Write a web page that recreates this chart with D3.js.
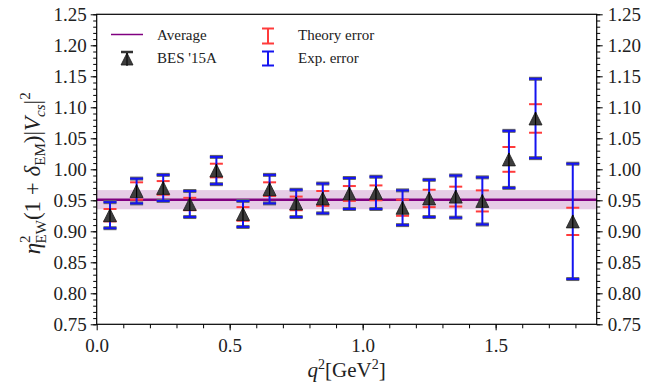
<!DOCTYPE html>
<html>
<head>
<meta charset="utf-8">
<script src="https://cdn.jsdelivr.net/npm/d3@7"></script>
<style>
  body { margin: 0; background: #fff; }
</style>
</head>
<body>
<div id="chart"></div>
<script>
// q^2 bin centres (GeV^2)
const qsq = [0.05, 0.15, 0.25, 0.35, 0.45, 0.55, 0.65, 0.75, 0.85, 0.95,
             1.05, 1.15, 1.25, 1.35, 1.45, 1.55, 1.65, 1.79];
// BES '15A extracted values
const central = [0.926, 0.965, 0.970, 0.944, 0.998, 0.928, 0.968, 0.945, 0.953, 0.961,
                 0.962, 0.938, 0.953, 0.956, 0.949, 1.016, 1.082, 0.916];
const expErr = [0.021, 0.020, 0.021, 0.021, 0.022, 0.021, 0.023, 0.022, 0.024, 0.025,
                0.026, 0.028, 0.030, 0.034, 0.038, 0.046, 0.064, 0.093];
const thErr = [0.010, 0.014, 0.011, 0.010, 0.011, 0.011, 0.011, 0.011, 0.012, 0.012,
               0.012, 0.013, 0.014, 0.016, 0.017, 0.020, 0.023, 0.022];
const average = 0.951;
const averageErr = 0.0155;

const xTicks = [0.0, 0.5, 1.0, 1.5];
const yTicks = [0.75, 0.80, 0.85, 0.90, 0.95, 1.00, 1.05, 1.10, 1.15, 1.20, 1.25];

const width = 668, height = 388;
const margin = { left: 96.7, right: 71.3, top: 14.3, bottom: 63.7 };
const serif = 'Liberation Serif';

const svg = d3.select('#chart').append('svg')
  .attr('width', width).attr('height', height)
  .attr('font-family', serif);

const x = d3.scaleLinear().domain([0, 1.88]).range([margin.left, width - margin.right]);
const y = d3.scaleLinear().domain([0.75, 1.25]).range([height - margin.bottom, margin.top]);

const points = qsq.map((q, i) => ({ q, v: central[i], e: expErr[i], t: thErr[i] }));

// average band + line
svg.append('rect')
  .attr('x', x(0)).attr('width', x(1.88) - x(0))
  .attr('y', y(average + averageErr)).attr('height', y(average - averageErr) - y(average + averageErr))
  .style('fill', 'purple').style('opacity', 0.2);
svg.append('line')
  .attr('x1', x(0)).attr('x2', x(1.88))
  .attr('y1', y(average)).attr('y2', y(average))
  .style('stroke', 'purple').style('stroke-width', 2.5);

const capW = 6.5;
const tri = 'M0,-6.5L6.5,6.5L-6.5,6.5Z';

function errorBar(g, d, err, color, width, vertical) {
  if (vertical) {
    g.append('line')
      .attr('x1', x(d.q)).attr('x2', x(d.q))
      .attr('y1', y(d.v - err)).attr('y2', y(d.v + err))
      .style('stroke', color).style('stroke-width', 2);
  }
  [d.v - err, d.v + err].forEach(val => {
    g.append('line')
      .attr('x1', x(d.q) - capW).attr('x2', x(d.q) + capW)
      .attr('y1', y(val)).attr('y2', y(val))
      .style('stroke', color).style('stroke-width', width);
  });
}

const marks = svg.append('g');
points.forEach(d => {
  const g = marks.append('g');
  errorBar(g, d, d.e, '#666', 4, false);
  errorBar(g, d, d.t, '#ff3b3b', 2, false);
  errorBar(g, d, d.e, '#1414f0', 2, true);
  g.append('path')
    .attr('d', tri)
    .attr('transform', `translate(${x(d.q)},${y(d.v)})`)
    .style('fill', '#3d3d3d').style('stroke', '#1a1a1a').style('stroke-width', 0.8);
  g.append('line')
    .attr('x1', x(d.q)).attr('x2', x(d.q))
    .attr('y1', y(d.v) - 6.5).attr('y2', y(d.v) + 6.5)
    .style('stroke', '#000').style('stroke-width', 1.2);
});

// frame
svg.append('rect')
  .attr('x', x(0)).attr('y', y(1.25))
  .attr('width', x(1.88) - x(0)).attr('height', y(0.75) - y(1.25))
  .style('fill', 'none').style('stroke', '#000').style('stroke-width', 1.2);

const fmt = d3.format('.2f');
const yMinor = d3.range(75, 126).map(k => k / 100);

const leftAxis = d3.axisLeft(y).tickValues(yTicks).tickFormat(fmt).tickSize(6).tickPadding(4);
const leftMinor = d3.axisLeft(y).tickValues(yMinor).tickFormat('').tickSize(3.5);
const rightAxis = d3.axisRight(y).tickValues(yTicks).tickFormat(fmt).tickSize(6).tickPadding(5);
const rightMinor = d3.axisRight(y).tickValues(yMinor).tickFormat('').tickSize(3.5);
const bottomAxis = d3.axisBottom(x).tickValues(xTicks).tickFormat(d3.format('.1f')).tickSize(6).tickPadding(8);
const bottomMinor = d3.axisBottom(x).tickValues(d3.range(1, 19).map(k => k / 10)).tickFormat('').tickSize(4);

function styleAxis(g) {
  g.attr('font-family', serif).attr('font-size', 19);
  g.select('.domain').remove();
  g.selectAll('line').style('stroke', '#000').style('stroke-width', 1);
  g.selectAll('text').attr('font-family', serif).style('font-size', '19px').style('fill', '#222');
}

svg.append('g').attr('transform', `translate(${x(0)},0)`).call(leftMinor).call(styleAxis);
svg.append('g').attr('transform', `translate(${x(0)},0)`).call(leftAxis).call(styleAxis);
svg.append('g').attr('transform', `translate(${x(1.88)},0)`).call(rightMinor).call(styleAxis);
svg.append('g').attr('transform', `translate(${x(1.88)},0)`).call(rightAxis).call(styleAxis);
svg.append('g').attr('transform', `translate(0,${y(0.75)})`).call(bottomMinor).call(styleAxis);
svg.append('g').attr('transform', `translate(0,${y(0.75)})`).call(bottomAxis).call(styleAxis);

// axis titles
const xt = svg.append('text')
  .attr('x', (x(0) + x(1.88)) / 2).attr('y', 377)
  .attr('text-anchor', 'middle').attr('font-size', 21).style('fill', '#222');
xt.append('tspan').style('font-style', 'italic').text('q');
xt.append('tspan').attr('dy', -8).attr('font-size', 14).text('2');
xt.append('tspan').attr('dy', 8).text('[GeV');
xt.append('tspan').attr('dy', -8).attr('font-size', 14).text('2');
xt.append('tspan').attr('dy', 8).text(']');

const yt = svg.append('text')
  .attr('transform', `translate(40,${(y(0.75) + y(1.25)) / 2 + 4}) rotate(-90)`)
  .attr('text-anchor', 'middle').attr('font-size', 23).style('fill', '#222');
yt.append('tspan').style('font-style', 'italic').text('η');
yt.append('tspan').attr('dy', -10).attr('font-size', 15).text('2');
yt.append('tspan').attr('dx', -8).attr('dy', 16).attr('font-size', 15).text('EW');
yt.append('tspan').attr('dy', -6).text('(1 + ');
yt.append('tspan').style('font-style', 'italic').text('δ');
yt.append('tspan').attr('dy', 5).attr('font-size', 15).text('EM');
yt.append('tspan').attr('dy', -5).text(')|');
yt.append('tspan').style('font-style', 'italic').text('V');
yt.append('tspan').attr('dy', 5).attr('font-size', 15).style('font-style', 'italic').text('cs');
yt.append('tspan').attr('dy', -5).text('|');
yt.append('tspan').attr('dy', -10).attr('font-size', 15).text('2');

// legend
const legend = svg.append('g').attr('font-size', 15).attr('font-family', serif);
legend.append('line').attr('x1', 111).attr('x2', 143).attr('y1', 34.5).attr('y2', 34.5)
  .style('stroke', 'purple').style('stroke-width', 1.5);
legend.append('text').attr('x', 157).attr('y', 40).style('fill', '#222').text('Average');

legend.append('line').attr('x1', 127).attr('x2', 127).attr('y1', 52).attr('y2', 66)
  .style('stroke', '#000').style('stroke-width', 1.2);
legend.append('line').attr('x1', 121).attr('x2', 133).attr('y1', 52).attr('y2', 52)
  .style('stroke', '#333').style('stroke-width', 2.5);
legend.append('path').attr('d', 'M0,-6L6,6L-6,6Z').attr('transform', 'translate(127,59)')
  .style('fill', '#3d3d3d').style('stroke', '#1a1a1a').style('stroke-width', 0.8);
legend.append('line').attr('x1', 127).attr('x2', 127).attr('y1', 53).attr('y2', 65)
  .style('stroke', '#000').style('stroke-width', 1);
legend.append('text').attr('x', 157).attr('y', 63).style('fill', '#222').text("BES '15A");

[[28.5, 43.5, '#ff3b3b', 'Theory error', 40], [51.5, 65.5, '#1414f0', 'Exp. error', 63]].forEach(([y1, y2, c, label, ty]) => {
  legend.append('line').attr('x1', 268).attr('x2', 268).attr('y1', y1).attr('y2', y2)
    .style('stroke', c).style('stroke-width', 2);
  [y1, y2].forEach(v => legend.append('line').attr('x1', 262).attr('x2', 274).attr('y1', v).attr('y2', v)
    .style('stroke', c).style('stroke-width', 2));
  legend.append('text').attr('x', 298).attr('y', ty).style('fill', '#222').text(label);
});
</script>
</body>
</html>
